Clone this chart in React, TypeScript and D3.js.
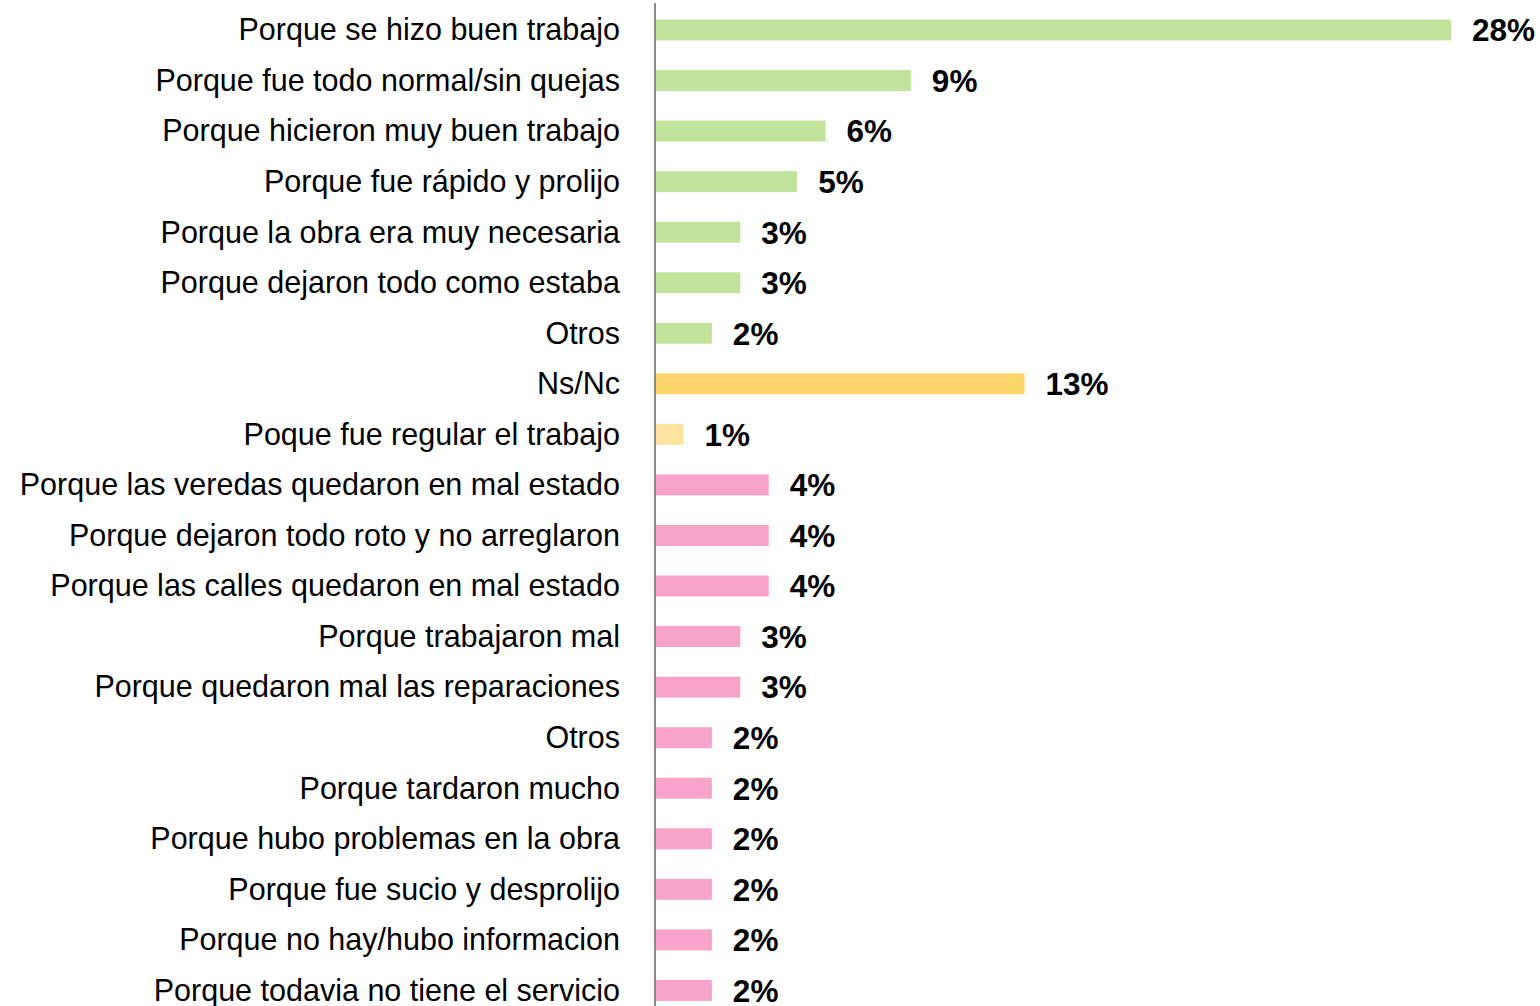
import React from 'react';
import * as d3 from 'd3';

const categories = [
  'Porque se hizo buen trabajo',
  'Porque fue todo normal/sin quejas',
  'Porque hicieron muy buen trabajo',
  'Porque fue rápido y prolijo',
  'Porque la obra era muy necesaria',
  'Porque dejaron todo como estaba',
  'Otros',
  'Ns/Nc',
  'Poque fue regular el trabajo',
  'Porque las veredas quedaron en mal estado',
  'Porque dejaron todo roto y no arreglaron',
  'Porque las calles quedaron en mal estado',
  'Porque trabajaron mal',
  'Porque quedaron mal las reparaciones',
  'Otros',
  'Porque tardaron mucho',
  'Porque hubo problemas en la obra',
  'Porque fue sucio y desprolijo',
  'Porque no hay/hubo informacion',
  'Porque todavia no tiene el servicio',
];
const values = [28, 9, 6, 5, 3, 3, 2, 13, 1, 4, 4, 4, 3, 3, 2, 2, 2, 2, 2, 2];
const groups = ['pos', 'pos', 'pos', 'pos', 'pos', 'pos', 'pos', 'ns', 'reg', 'neg', 'neg', 'neg', 'neg', 'neg', 'neg', 'neg', 'neg', 'neg', 'neg', 'neg'];

const colors: Record<string, string> = {
  pos: '#c2e39b',
  ns: '#ffd56c',
  reg: '#ffe4a1',
  neg: '#f7a3ca',
};

const W = 1540;
const H = 1006;
const font = '"Liberation Sans", Arial, sans-serif';

export default function App() {
  const idx = categories.map((_, i) => i);
  const y = d3.scaleBand<number>()
    .domain(idx)
    .range([4.7, 1015.7])
    .paddingInner(0.585)
    .paddingOuter(0.2925);
  const x = d3.scaleLinear().domain([0, 28]).range([655, 1451]);

  return (
    <svg width={W} height={H} style={{ position: 'absolute', left: 0, top: 0, background: '#fff' }}>
      {idx.map(i => {
        const yc = (y(i) as number) + y.bandwidth() / 2;
        return (
          <g key={i}>
            <rect x={x(0)} y={y(i)} width={x(values[i]) - x(0)} height={y.bandwidth()} fill={colors[groups[i]]} />
            <text x={620} y={yc} dy="0.34em" textAnchor="end"
              style={{ fontFamily: font, fontSize: 30.5 }}
              fill="#000">{categories[i]}</text>
            <text x={x(values[i]) + 21} y={yc} dy="0.36em"
              style={{ fontFamily: font, fontSize: 31.5, fontWeight: 'bold' }}
              fill="#000">{values[i]}%</text>
          </g>
        );
      })}
      <line x1={655} x2={655} y1={3} y2={H} stroke="#8c8c8c" strokeWidth={2} />
    </svg>
  );
}
